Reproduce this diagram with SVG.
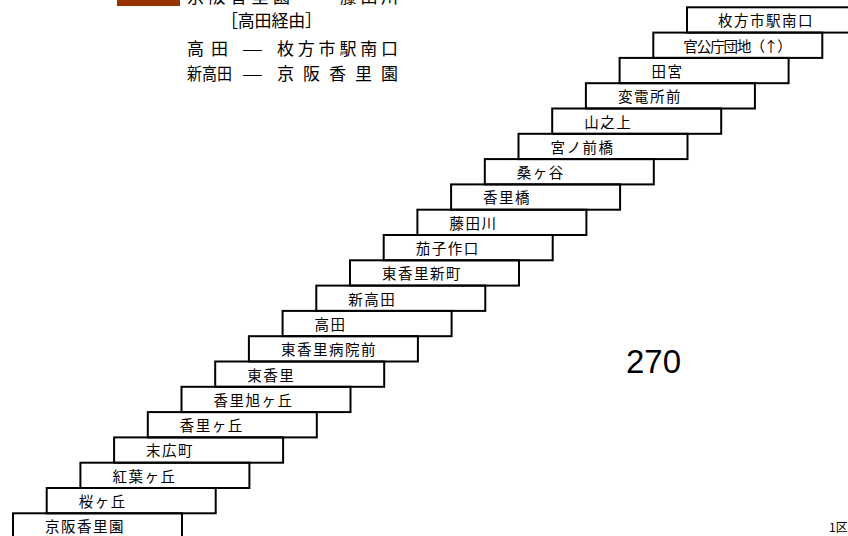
<svg xmlns="http://www.w3.org/2000/svg" width="848" height="536" viewBox="0 0 848 536">
<style>
.step rect{fill:none;stroke:#000;stroke-width:2}
.step text{font-family:"Noto Sans CJK JP","Noto Sans CJK SC",sans-serif;font-size:14.5px;letter-spacing:1.5px;fill:#000}
.leg{font-family:"Noto Sans CJK JP","Noto Sans CJK SC",sans-serif;font-size:17px;fill:#000}
</style>
<rect width="848" height="536" fill="#fff"/>
<g id="legend">
<rect x="117" y="-4" width="63" height="10" fill="#993300"/>
<text class="leg" x="187" y="3" textLength="103" lengthAdjust="spacing">京阪香里園</text>
<text class="leg" x="304" y="3" textLength="21" lengthAdjust="spacingAndGlyphs">—</text>
<text class="leg" x="340" y="3" textLength="58" lengthAdjust="spacing">藤田川</text>
<text class="leg" x="221" y="27" textLength="101" lengthAdjust="spacing">［高田経由］</text>
<text class="leg" x="187" y="54.5" textLength="41" lengthAdjust="spacing">高田</text>
<text class="leg" x="242" y="54.5" textLength="21" lengthAdjust="spacingAndGlyphs">—</text>
<text class="leg" x="277" y="54.5" textLength="121" lengthAdjust="spacing">枚方市駅南口</text>
<text class="leg" x="187" y="79.5" textLength="45" lengthAdjust="spacingAndGlyphs">新高田</text>
<text class="leg" x="242" y="79.5" textLength="21" lengthAdjust="spacingAndGlyphs">—</text>
<text class="leg" x="277" y="79.5" textLength="121" lengthAdjust="spacing">京阪香里園</text>
</g>
<g id="connectors"></g>
<g id="stop-00" class="step" transform="translate(13,513.3)"><rect width="169" height="25.3"/><text x="32" y="19">京阪香里園</text></g>
<g id="stop-01" class="step" transform="translate(46.7,488)"><rect width="169" height="25.3"/><text x="32" y="19">桜ヶ丘</text></g>
<g id="stop-02" class="step" transform="translate(80.4,462.7)"><rect width="169" height="25.3"/><text x="32" y="19">紅葉ヶ丘</text></g>
<g id="stop-03" class="step" transform="translate(114.1,437.4)"><rect width="169" height="25.3"/><text x="32" y="19">末広町</text></g>
<g id="stop-04" class="step" transform="translate(147.8,412.1)"><rect width="169" height="25.3"/><text x="32" y="19">香里ヶ丘</text></g>
<g id="stop-05" class="step" transform="translate(181.5,386.8)"><rect width="169" height="25.3"/><text x="32" y="19">香里旭ヶ丘</text></g>
<g id="stop-06" class="step" transform="translate(215.2,361.5)"><rect width="169" height="25.3"/><text x="32" y="19">東香里</text></g>
<g id="stop-07" class="step" transform="translate(248.9,336.2)"><rect width="169" height="25.3"/><text x="32" y="19">東香里病院前</text></g>
<g id="stop-08" class="step" transform="translate(282.6,310.9)"><rect width="169" height="25.3"/><text x="32" y="19">高田</text></g>
<g id="stop-09" class="step" transform="translate(316.3,285.6)"><rect width="169" height="25.3"/><text x="32" y="19">新高田</text></g>
<g id="stop-10" class="step" transform="translate(350,260.3)"><rect width="169" height="25.3"/><text x="32" y="19">東香里新町</text></g>
<g id="stop-11" class="step" transform="translate(383.7,235)"><rect width="169" height="25.3"/><text x="32" y="19">茄子作口</text></g>
<g id="stop-12" class="step" transform="translate(417.4,209.7)"><rect width="169" height="25.3"/><text x="32" y="19">藤田川</text></g>
<g id="stop-13" class="step" transform="translate(451.1,184.4)"><rect width="169" height="25.3"/><text x="32" y="19">香里橋</text></g>
<g id="stop-14" class="step" transform="translate(484.8,159.1)"><rect width="169" height="25.3"/><text x="32" y="19">桑ヶ谷</text></g>
<g id="stop-15" class="step" transform="translate(518.5,133.8)"><rect width="169" height="25.3"/><text x="32" y="19">宮ノ前橋</text></g>
<g id="stop-16" class="step" transform="translate(552.2,108.5)"><rect width="169" height="25.3"/><text x="32" y="19">山之上</text></g>
<g id="stop-17" class="step" transform="translate(585.9,83.2)"><rect width="169" height="25.3"/><text x="32" y="19">変電所前</text></g>
<g id="stop-18" class="step" transform="translate(619.6,57.9)"><rect width="169" height="25.3"/><text x="32" y="19">田宮</text></g>
<g id="stop-19" class="step" transform="translate(653.3,32.6)"><rect width="169" height="25.3"/><text x="30" y="19" textLength="110" lengthAdjust="spacing">官公庁団地（↑）</text></g>
<g id="stop-20" class="step" transform="translate(687,7.3)"><rect width="169" height="25.3"/><text x="31" y="19">枚方市駅南口</text></g>
<g id="route-number"><text x="626" y="373" font-family="Liberation Sans, Arial, sans-serif" font-size="33">270</text></g>
<g id="fare-zone"><text x="829" y="532" font-family="'Noto Sans CJK JP', sans-serif" font-size="12">1区</text></g>
</svg>
